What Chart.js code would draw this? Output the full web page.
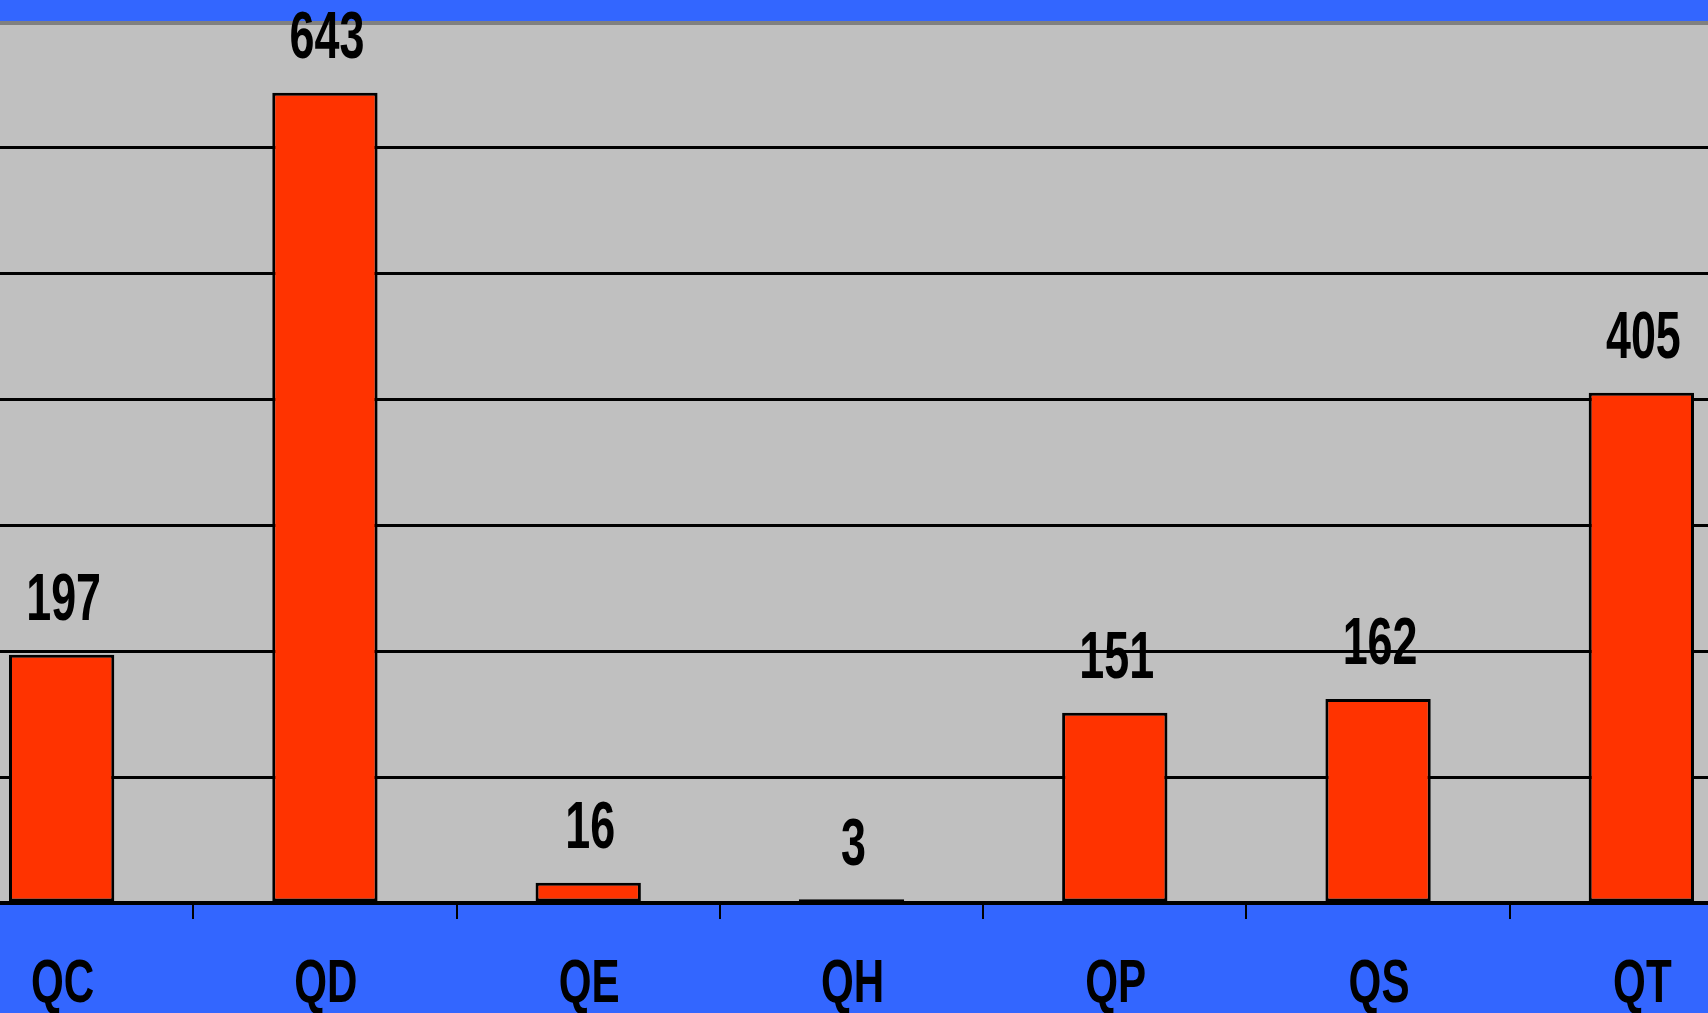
<!DOCTYPE html>
<html>
<head>
<meta charset="utf-8">
<script src="https://cdn.jsdelivr.net/npm/chart.js@4/dist/chart.umd.min.js"></script>
<style>
  html, body { margin: 0; padding: 0; overflow: hidden; background: #3366FF; }
  #frame { position: relative; width: 1708px; height: 1013px; overflow: hidden; }
  #wrap { position: absolute; left: -70px; top: 0; width: 1843px; height: 1013px; }
</style>
</head>
<body>
<div id="frame"><div id="wrap"><canvas id="c"></canvas></div></div>
<script>
// Counts per Q-category
const categories = ['QC', 'QD', 'QE', 'QH', 'QP', 'QS', 'QT'];
const counts = [197, 643, 16, 3, 151, 162, 405];
const yTicks = [0, 100, 200, 300, 400, 500, 600, 700];

const BLUE = '#3366FF';
const PLOT_BG = '#C0C0C0';
const BAR_RED = '#FF3300';
const FONT = '"Liberation Sans", Arial, sans-serif';
const SQUEEZE = 0.68; // narrow, tall lettering

// Blue frame, grey plot area and the grey rule along the top of the plot
const backdrop = {
  id: 'backdrop',
  beforeDraw(chart) {
    const { ctx, chartArea: a, width, height } = chart;
    ctx.save();
    ctx.fillStyle = BLUE;
    ctx.fillRect(0, 0, width, height);
    ctx.fillStyle = PLOT_BG;
    ctx.fillRect(0, a.top, width, a.bottom - a.top);
    ctx.restore();
  },
  beforeDatasetsDraw(chart) {
    const { ctx, chartArea: a, width } = chart;
    ctx.save();
    ctx.fillStyle = '#808080';
    ctx.fillRect(0, a.top, width, 4);
    ctx.restore();
  }
};

function narrowText(ctx, text, x, y, size) {
  ctx.save();
  ctx.font = 'bold ' + size + 'px ' + FONT;
  ctx.fillStyle = '#000';
  ctx.textAlign = 'center';
  ctx.textBaseline = 'alphabetic';
  ctx.translate(x, y);
  ctx.scale(SQUEEZE, 1);
  ctx.fillText(text, 0, 0);
  ctx.restore();
}

// Count printed above each bar, category names under the axis
const textLayer = {
  id: 'textLayer',
  afterDatasetsDraw(chart) {
    const { ctx } = chart;
    const meta = chart.getDatasetMeta(0);
    meta.data.forEach((bar, i) => {
      narrowText(ctx, String(chart.data.datasets[0].data[i]), bar.x + 2, bar.y - 34.5, 66);
    });
  },
  afterDraw(chart) {
    const { ctx } = chart;
    const xs = chart.scales.x;
    xs.ticks.forEach((t, i) => {
      narrowText(ctx, xs.getLabelForValue(t.value), xs.getPixelForTick(i) + 1, xs.top + 99, 62);
    });
  }
};

new Chart(document.getElementById('c'), {
  type: 'bar',
  data: {
    labels: categories,
    datasets: [{
      data: counts,
      backgroundColor: BAR_RED,
      borderColor: '#000',
      borderWidth: 3,
      borderSkipped: false,
      barPercentage: 0.4,
      categoryPercentage: 1.0
    }]
  },
  options: {
    responsive: true,
    maintainAspectRatio: false,
    animation: false,
    layout: { padding: { top: 21, left: 0, right: 0, bottom: 0 } },
    plugins: { legend: { display: false }, tooltip: { enabled: false } },
    scales: {
      x: {
        offset: true,
        grid: { display: true, offset: true, drawOnChartArea: false, drawTicks: true, tickLength: 16, color: '#000', lineWidth: 2 },
        border: { display: true, color: '#000', width: 4 },
        ticks: { display: false, autoSkip: false, maxRotation: 0 },
        afterFit(s) { s.height = 110; }
      },
      y: {
        min: 0,
        max: 700,
        afterBuildTicks(s) { s.ticks = yTicks.map(v => ({ value: v })); },
        ticks: { display: false },
        grid: {
          drawTicks: false,
          lineWidth: 3,
          color: c => (c.tick && (c.tick.value === 0 || c.tick.value === 700)) ? 'rgba(0,0,0,0)' : '#000'
        },
        border: { display: false },
        afterFit(s) { s.width = 0; }
      }
    }
  },
  plugins: [backdrop, textLayer]
});
</script>
</body>
</html>
